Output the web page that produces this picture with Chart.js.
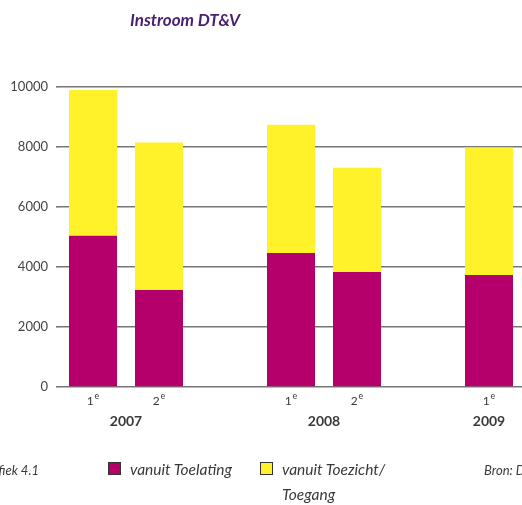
<!DOCTYPE html>
<html>
<head>
<meta charset="utf-8">
<script src="https://cdn.jsdelivr.net/npm/chart.js@4/dist/chart.umd.min.js"></script>
<style>
  html, body { margin: 0; padding: 0; background: #fff; }
  #wrap { position: relative; width: 522px; height: 505px; overflow: hidden; font-family: Lato, 'Open Sans', sans-serif; }
  #c { position: absolute; left: 0; top: 0; }
  .t { position: absolute; white-space: nowrap; }
  #title { left: 130px; top: 10px; font-size: 17px; line-height: 20px; font-weight: bold; font-style: italic; color: #4b1f6f; }
  .leg { font-size: 15.5px; line-height: 25px; font-style: italic; color: #3a3a3a; }
  .box { position: absolute; width: 11px; height: 11px; border: 1px solid #333; }
  .foot { font-size: 13px; line-height: 20px; color: #3a3a3a; font-style: italic; }
</style>
</head>
<body>
<div id="wrap">
  <canvas id="c" width="522" height="505"></canvas>
  <div class="t" id="title">Instroom DT&amp;V</div>
  <div class="t foot" style="left:-81px; width:120px; text-align:right; top:460px;">Grafiek 4.1</div>
  <div class="box" style="left:108px; top:462px; background:#b5006b;"></div>
  <div class="t leg" style="left:130px; top:457px;">vanuit Toelating</div>
  <div class="box" style="left:260px; top:462px; background:#fff22a;"></div>
  <div class="t leg" style="left:282px; top:457px;">vanuit Toezicht/<br>Toegang</div>
  <div class="t foot" style="left:484px; top:460px;">Bron: DT&amp;V</div>
</div>
<script>
// Data
const quarters = ["1", "2", "", "1", "2", "", "1"];
const years = ["2007", "2007", "", "2008", "2008", "", "2009"];
const yearLabels = ["2007", "2008", "2009"];
const vanuitToelating = [5040, 3230, null, 4465, 3830, null, 3730];
const vanuitToezicht = [4860, 4920, null, 4275, 3475, null, 4250];
const yTicks = [0, 2000, 4000, 6000, 8000, 10000];

const categories = quarters.map((q, i) => q ? years[i] + " " + q + "e" : "");

const labelPlugin = {
  id: 'xlabels',
  afterDraw(chart) {
    const ctx = chart.ctx;
    const xs = chart.scales.x;
    ctx.save();
    ctx.fillStyle = '#3a3a3a';
    ctx.textBaseline = 'alphabetic';
    quarters.forEach((q, i) => {
      if (!q) return;
      const x = xs.getPixelForValue(i);
      ctx.font = '12px Lato, "Open Sans", sans-serif';
      const w1 = ctx.measureText(q).width;
      ctx.font = '9px Lato, "Open Sans", sans-serif';
      const w2 = ctx.measureText('e').width;
      const start = x - (w1 + w2 + 1) / 2;
      ctx.font = '12px Lato, "Open Sans", sans-serif';
      ctx.textAlign = 'left';
      ctx.fillText(q, start, 405);
      ctx.font = '9px Lato, "Open Sans", sans-serif';
      ctx.fillText('e', start + w1 + 1, 399);
    });
    ctx.font = 'bold 14px Lato, "Open Sans", sans-serif';
    ctx.textAlign = 'center';
    yearLabels.forEach(y => {
      const idx = [];
      years.forEach((yy, i) => { if (yy === y) idx.push(i); });
      const px = idx.map(i => xs.getPixelForValue(i));
      const mid = (Math.min(...px) + Math.max(...px)) / 2;
      ctx.fillText(y, mid, 426);
    });
    ctx.restore();
  }
};

new Chart(document.getElementById('c'), {
  type: 'bar',
  data: {
    labels: categories,
    datasets: [
      { label: 'vanuit Toelating', data: vanuitToelating, backgroundColor: '#b5006b', borderWidth: 0 },
      { label: 'vanuit Toezicht/Toegang', data: vanuitToezicht, backgroundColor: '#fff22a', borderWidth: 0 }
    ]
  },
  options: {
    responsive: false,
    animation: false,
    devicePixelRatio: 1,
    layout: { padding: { top: 87, right: 0, bottom: 0, left: 0 } },
    datasets: { bar: { barPercentage: 48 / 66, categoryPercentage: 1 } },
    plugins: { legend: { display: false }, tooltip: { enabled: false }, title: { display: false } },
    scales: {
      x: {
        stacked: true,
        grid: { display: false },
        border: { display: false },
        ticks: { display: false },
        afterFit(scale) { scale.height = 118; }
      },
      y: {
        stacked: true,
        min: 0,
        max: 10000,
        afterBuildTicks(scale) { scale.ticks = yTicks.map(v => ({ value: v })); },
        afterFit(scale) { scale.width = 60; },
        border: { display: false },
        grid: { color: '#777', lineWidth: 1.6, drawTicks: true, tickLength: 4, tickColor: '#777' },
        ticks: {
          padding: 8,
          color: '#444',
          font: { family: 'Lato, "Open Sans", sans-serif', size: 13 },
          callback: (v) => String(v)
        }
      }
    }
  },
  plugins: [labelPlugin]
});
</script>
</body>
</html>
